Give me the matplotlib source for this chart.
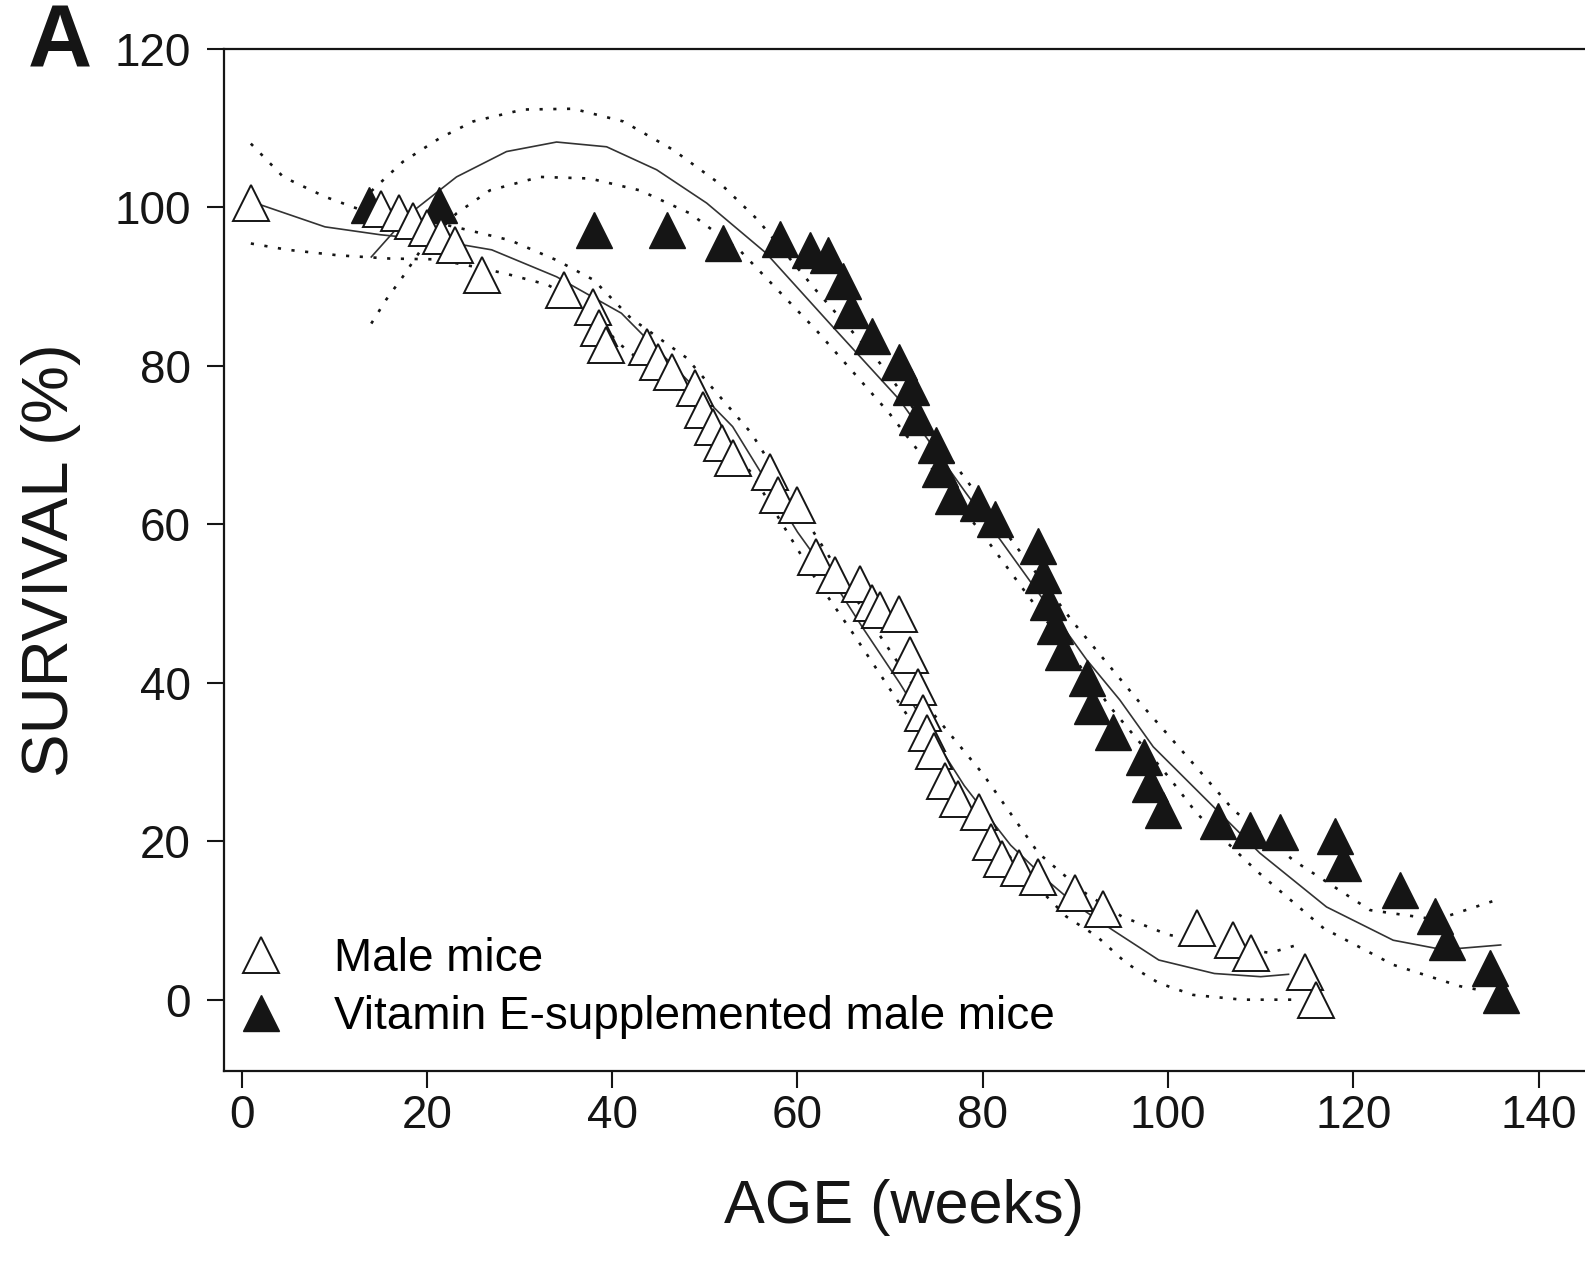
import numpy as np
import matplotlib
matplotlib.use('Agg')
import matplotlib.pyplot as plt

plt.rcParams['font.family'] = ['Liberation Sans', 'DejaVu Sans']

# survival data (weeks, %)
male_x = [1, 15, 17, 18.5, 20, 21.5, 23, 26, 34.8, 37.9, 38.6, 39.3, 43.8, 44.9, 46.5, 48.9,
          49.8, 50.9, 51.9, 53, 57, 57.9, 60, 62, 64, 66.7, 68, 68.9, 71, 72.1, 73, 73.5,
          74, 74.7, 75.9, 77.3, 79.6, 80.9, 82.1, 83.9, 86, 90, 93, 103.1, 107, 109, 114.8, 116]
male_y = [100.5, 99.8, 99.2, 98.3, 97.3, 96.3, 95.2, 91.4, 89.5, 87.4, 84.7, 82.6, 82.4, 80.4,
          79.2, 77.2, 74.4, 72.3, 70.2, 68.3, 66.6, 63.7, 62.4, 55.9, 53.6, 52.5, 50, 49.2,
          48.7, 43.5, 39.5, 36.2, 33.6, 31.4, 27.6, 25.3, 23.7, 19.9, 17.8, 16.6, 15.5, 13.5,
          11.4, 9, 7.5, 5.9, 3.5, 0]

vite_x = [13.8, 21.3, 38, 45.9, 52, 58.1, 61.3, 63.3, 64.9, 65.8, 68, 71, 72.3, 72.9, 75,
          75.4, 76.8, 79.5, 81.3, 86, 86.5, 87, 87.8, 88.7, 91.2, 91.8, 94.1, 97.4, 98, 99.5,
          105.4, 108.8, 112.1, 118, 118.9, 125, 128.8, 130.1, 134.8, 135.9]
vite_y = [100.3, 100.3, 97.1, 97.1, 95.4, 96, 94.6, 93.9, 90.7, 87, 83.7, 80.4, 77.3, 73.5, 70,
          67, 63.5, 62.6, 60.7, 57.2, 53.6, 50.2, 47.1, 43.9, 40.6, 37, 33.8, 30.6, 27.2, 23.9,
          22.5, 21.4, 21.2, 20.6, 17.2, 13.8, 10.5, 7.3, 4, 0.6]

# fitted curves and confidence bands
male_fit_x = [2, 9, 15, 21, 27, 34, 41, 47, 53, 60, 64, 67, 71, 75, 78, 83, 87, 90, 94, 99, 105, 110, 113]
male_fit_y = [100.3, 97.5, 96.5, 95.8, 94.6, 91.2, 86.6, 79.5, 72.3, 59, 52.5, 47, 40, 32.5, 27,
              19.5, 15, 12, 8.8, 5, 3.3, 2.9, 3.2]
male_hi_x = [1, 4.5, 9, 12.5, 18, 23, 29, 34, 38, 42, 48, 55, 62, 68, 74, 80, 86, 91, 95, 100, 106, 111, 114.5]
male_hi_y = [108, 103.8, 101.3, 99.8, 98.8, 97.5, 95.8, 93.3, 90.8, 86, 81, 71.5, 58.5, 47.5, 37,
             28.5, 18.5, 13.5, 10.5, 8.2, 6.8, 5.9, 7.1]
male_lo_x = [1, 5, 10.5, 16, 21, 25, 28.5, 33, 37.5, 40.5, 48, 55, 62, 66, 71.5, 78, 84, 89,
             92.3, 95.5, 99, 102.7, 108, 113.5]
male_lo_y = [95.4, 94.6, 93.9, 93.5, 93.4, 92.5, 91.6, 90.2, 87.4, 83, 76, 66.5, 53, 46.2, 36.5,
             25, 16.5, 10.5, 8, 4.6, 2.1, 0.6, 0, 0]

vite_fit_x = [14, 18.2, 23.2, 28.6, 34, 39.4, 44.8, 50.2, 56.6, 63.8, 71, 78.2, 81.1, 91.2,
              94.8, 98.4, 104.5, 109.9, 117.1, 124.3, 129.7, 135.9]
vite_fit_y = [93.7, 99.2, 103.8, 107, 108.2, 107.6, 104.7, 100.5, 94.2, 84.9, 75.7, 63.9, 59.3,
              42.9, 37.8, 31.9, 24.8, 18.5, 11.7, 7.5, 6.3, 6.9]
vite_hi_x = [14, 17.4, 21.4, 25, 30.4, 35.8, 41.2, 46.6, 52, 55.7, 62, 68.9, 78.2, 89.7, 97,
             102.7, 107, 113.5, 121.8, 129, 135.5]
vite_hi_y = [102, 105.7, 108.7, 110.8, 112.3, 112.4, 110.8, 107.2, 102.6, 98.4, 89.5, 80.3,
             65.6, 47.7, 37.4, 29.8, 24, 17.6, 11.3, 10.1, 12.6]
vite_lo_x = [14, 15.6, 17.4, 19.6, 23.2, 26.8, 32.2, 37.6, 43, 48.4, 53.8, 62, 69.9, 80.7,
             93.7, 100.2, 103.1, 109.6, 116.8, 124.3, 131.5, 133.7]
vite_lo_y = [85.3, 88.3, 91.2, 95, 99.2, 102.1, 103.8, 103.6, 102.1, 99.2, 94.5, 84.5, 74,
             57.6, 37, 27.9, 23.5, 16.2, 9, 4.4, 1.7, 1.2]

ink = '#151515'

fig = plt.figure(figsize=(15.85, 12.73), dpi=100)
ax = fig.add_axes([0.1413, 0.1583, 0.8587, 0.8036])

dots = (0, (1.2, 4.0))
for fx, fy in [(male_fit_x, male_fit_y), (vite_fit_x, vite_fit_y)]:
    ax.plot(fx, fy, color='#333333', lw=1.2, zorder=2)
for bx, by in [(male_hi_x, male_hi_y), (male_lo_x, male_lo_y),
               (vite_hi_x, vite_hi_y), (vite_lo_x, vite_lo_y)]:
    ax.plot(bx, by, color=ink, lw=1.9, ls=dots, zorder=2)

h2, = ax.plot(vite_x, vite_y, ls='none', marker='^', ms=26, mfc=ink, mec=ink, mew=1.0,
              zorder=3, label='Vitamin E-supplemented male mice')
h1, = ax.plot(male_x, male_y, ls='none', marker='^', ms=26, mfc='white', mec=ink, mew=1.4,
              zorder=4, label='Male mice')

ax.set_xlim(-1.9, 145.0)
ax.set_ylim(-9.06, 120)
ax.set_xticks(range(0, 141, 20))
ax.set_yticks(range(0, 121, 20))
ax.tick_params(direction='out', length=12, width=1.5, labelsize=33, color=ink, labelcolor=ink)
ax.tick_params(axis='x', pad=4)
ax.tick_params(axis='y', pad=12)
ax.spines['right'].set_visible(False)
for s in ['left', 'top', 'bottom']:
    ax.spines[s].set_linewidth(1.6)
    ax.spines[s].set_color(ink)

ax.set_xlabel('AGE (weeks)', fontsize=44, color=ink)
ax.set_ylabel('SURVIVAL (%)', fontsize=47, color=ink)
ax.xaxis.set_label_coords(0.5, -0.105)
ax.yaxis.set_label_coords(-0.105, 0.5)

ax.legend(handles=[h1, h2], loc='lower left', bbox_to_anchor=(0.0103, 0.032),
          frameon=False, fontsize=33, handlelength=1.0, handletextpad=1.1,
          labelspacing=0.3, borderpad=0, borderaxespad=0, numpoints=1)

fig.text(0.038, 0.965, 'A', fontsize=64, fontweight='bold', ha='center', va='center', color=ink)

fig.savefig('out.png', dpi=100)
